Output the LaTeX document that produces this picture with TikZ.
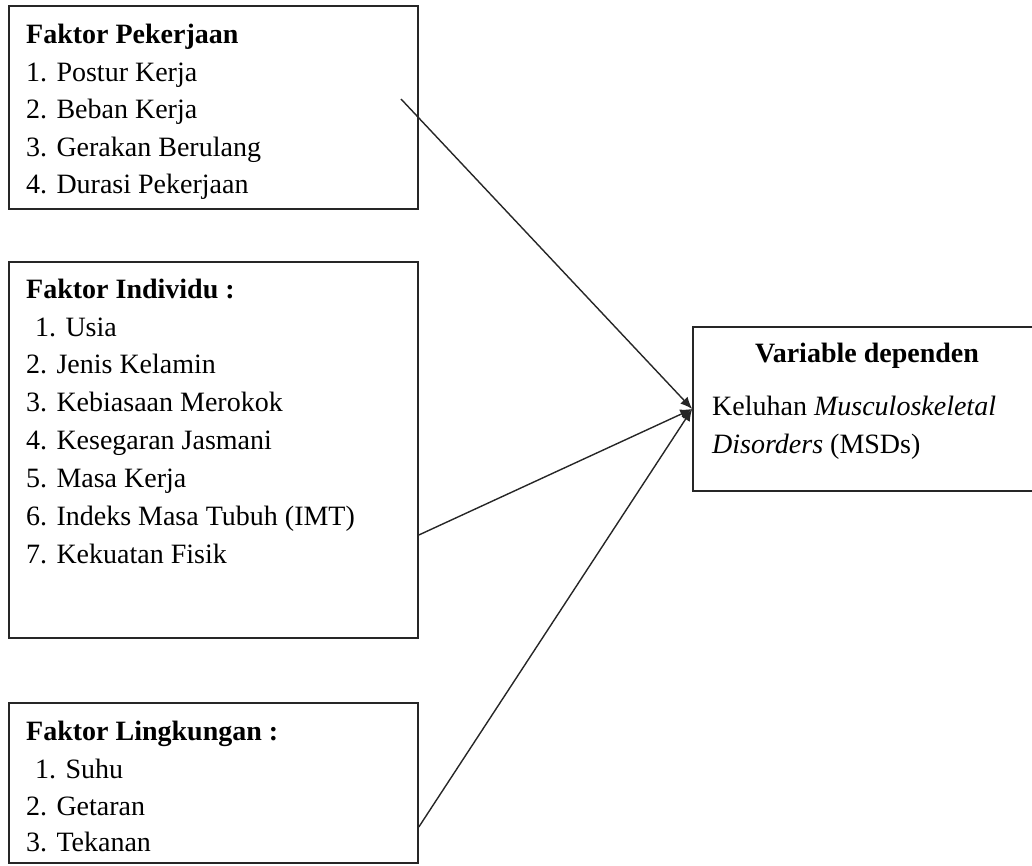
\documentclass[tikz,border=0pt]{standalone}
\usepackage{fontspec}
\setmainfont{Liberation Serif}
\usetikzlibrary{arrows.meta}
\begin{document}
\begin{tikzpicture}[x=1pt,y=-1pt,
  boxframe/.style={draw=black!85,line width=1.6pt,rectangle,inner sep=0pt},
  txt/.style={anchor=base west,inner sep=0pt,font=\fontsize{28}{32}\selectfont},
  hdr/.style={txt,font=\fontsize{28}{32}\selectfont\bfseries},
  link/.style={draw=black!85,line width=1.4pt,-{Latex[length=12pt,width=10pt]}}]
\useasboundingbox (0,0) rectangle (1032,865);
% boxes
\node[boxframe,minimum width=409pt,minimum height=203pt] (b1) at (213.5,107.5) {};
\node[boxframe,minimum width=409pt,minimum height=376pt] (b2) at (213.5,450) {};
\node[boxframe,minimum width=409pt,minimum height=160pt] (b3) at (213.5,783) {};
\node[boxframe,minimum width=347pt,minimum height=164pt] (dep) at (866.5,409) {};
% box 1
\node[hdr] (h1) at (26,43) {Faktor Pekerjaan};
\node[txt] (p1) at (26,81) {1. Postur Kerja};
\node[txt] (p2) at (26,118) {2. Beban Kerja};
\node[txt] (p3) at (26,156) {3. Gerakan Berulang};
\node[txt] (p4) at (26,193) {4. Durasi Pekerjaan};
% box 2
\node[hdr] (h2) at (26,298) {Faktor Individu :};
\node[txt] (i1) at (35,336) {1. Usia};
\node[txt] (i2) at (26,373) {2. Jenis Kelamin};
\node[txt] (i3) at (26,411) {3. Kebiasaan Merokok};
\node[txt] (i4) at (26,449) {4. Kesegaran Jasmani};
\node[txt] (i5) at (26,487) {5. Masa Kerja};
\node[txt] (i6) at (26,525) {6. Indeks Masa Tubuh (IMT)};
\node[txt] (i7) at (26,563) {7. Kekuatan Fisik};
% box 3
\node[hdr] (h3) at (26,740) {Faktor Lingkungan :};
\node[txt] (l1) at (35,778) {1. Suhu};
\node[txt] (l2) at (26,815) {2. Getaran};
\node[txt] (l3) at (26,851) {3. Tekanan};
% dependent box
\node[hdr,anchor=base] (hd) at (867,362) {Variable dependen};
\node[txt] (d1) at (712,415) {Keluhan \textit{Musculoskeletal}};
\node[txt] (d2) at (712,453) {\textit{Disorders} (MSDs)};
% connectors
\coordinate (s1) at (401,99);
\coordinate (s2) at (b2.east |- 0,535);
\coordinate (s3) at (b3.east |- 0,827);
\draw[link] (s1) -- (dep.west);
\draw[link] (s2) -- (dep.west);
\draw[link] (s3) -- (dep.west);
\end{tikzpicture}
\end{document}
